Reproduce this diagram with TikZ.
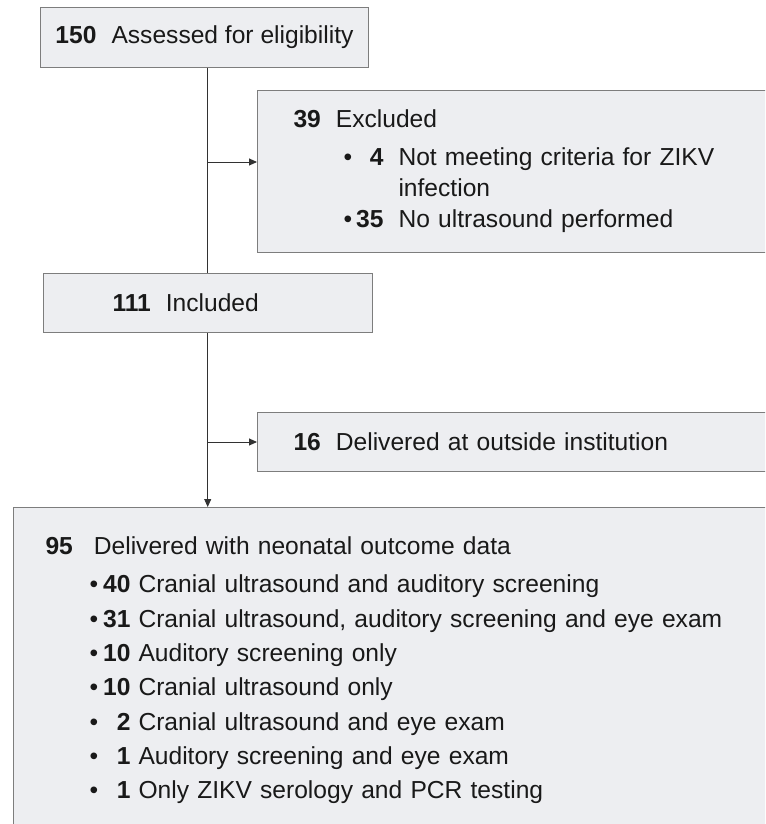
\documentclass[tikz,border=0pt]{standalone}
\usepackage{fontspec}
\setmainfont{Liberation Sans}
\usepackage{tikz}
\usetikzlibrary{arrows.meta}
\usepackage{xcolor}
\definecolor{boxfill}{RGB}{237,238,241}
\definecolor{boxline}{RGB}{125,125,125}
\definecolor{linkline}{RGB}{50,50,50}
\definecolor{txt}{RGB}{25,25,25}

\begin{document}
\begin{tikzpicture}[x=0.02cm, y=-0.02cm,
  >={Triangle[length=1.6mm,width=1.4mm]},
  box/.style={draw=boxline, line width=0.6pt, fill=boxfill, text=txt, anchor=north west,
    font=\fontsize{14}{17.6}\selectfont, inner ysep=0pt},
  link/.style={draw=linkline, line width=0.55pt}]
\useasboundingbox (0,0) rectangle (765,824);
\clip (0,0) rectangle (765,824);

\node [box, minimum width=6.56cm, minimum height=1.2cm] (assess) at (40,7)
  {\textbf{150}\hspace{0.3cm}Assessed for eligibility};

\node [box, text width=9.82cm, inner xsep=0.72cm, minimum height=3.24cm, align=left] (excl) at (257,90)
  {\textbf{39}\hspace{0.3cm}Excluded\\[0.14cm]
   \hspace{1.0cm}\textbullet\makebox[0.628cm][r]{\textbf{4}}\hspace{0.3cm}Not meeting criteria for ZIKV\\
   \hspace{2.1cm}infection\\
   \hspace{1.0cm}\textbullet\makebox[0.628cm][r]{\textbf{35}}\hspace{0.3cm}No ultrasound performed};

\node [box, text width=3.82cm, inner xsep=1.38cm, minimum height=1.18cm, align=left] (incl) at (43,273)
  {\textbf{111}\hspace{0.3cm}Included};

\node [box, text width=9.82cm, inner xsep=0.72cm, minimum height=1.18cm, align=left] (outside) at (257,412)
  {\textbf{16}\hspace{0.3cm}Delivered at outside institution};

\node [box, text width=14.46cm, inner xsep=0.64cm, minimum height=6.5cm, align=left,
  font=\fontsize{14}{19.5}\selectfont] (deliv) at (13,507)
  {\textbf{95}\hspace{0.42cm}Delivered with neonatal outcome data\\[0.09cm]
   \hspace{0.88cm}\textbullet\makebox[0.648cm][r]{\textbf{40}}\hspace{0.16cm}Cranial ultrasound and auditory screening\\
   \hspace{0.88cm}\textbullet\makebox[0.648cm][r]{\textbf{31}}\hspace{0.16cm}Cranial ultrasound, auditory screening and eye exam\\
   \hspace{0.88cm}\textbullet\makebox[0.648cm][r]{\textbf{10}}\hspace{0.16cm}Auditory screening only\\
   \hspace{0.88cm}\textbullet\makebox[0.648cm][r]{\textbf{10}}\hspace{0.16cm}Cranial ultrasound only\\
   \hspace{0.88cm}\textbullet\makebox[0.648cm][r]{\textbf{2}}\hspace{0.16cm}Cranial ultrasound and eye exam\\
   \hspace{0.88cm}\textbullet\makebox[0.648cm][r]{\textbf{1}}\hspace{0.16cm}Auditory screening and eye exam\\
   \hspace{0.88cm}\textbullet\makebox[0.648cm][r]{\textbf{1}}\hspace{0.16cm}Only ZIKV serology and PCR testing};

% trunk and side branches
\coordinate (j1) at (207.7,162);
\coordinate (j2) at (207.7,442);
\draw [link] (assess.south -| j1) -- (incl.north -| j1);
\draw [link, ->] (incl.south -| j2) -- (deliv.north -| j2);
\draw [link, ->] (j1) -- (j1 -| excl.west);
\draw [link, ->] (j2) -- (j2 -| outside.west);

\end{tikzpicture}
\end{document}
